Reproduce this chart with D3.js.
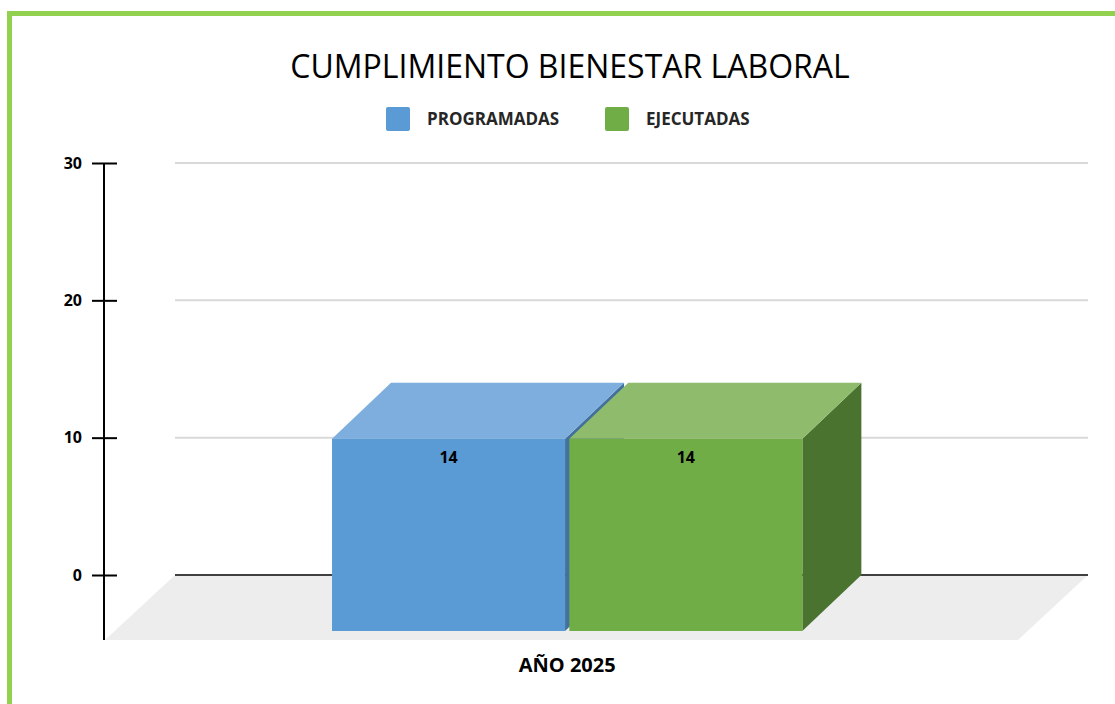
<!DOCTYPE html>
<html>
<head>
<meta charset="utf-8">
<script src="https://cdn.jsdelivr.net/npm/d3@7"></script>
<style>
  body { margin: 0; background: #ffffff; }
  svg { display: block; }
</style>
</head>
<body>
<svg></svg>
<script>
// Chart data
const categories = ["AÑO 2025"];
const seriesNames = ["PROGRAMADAS", "EJECUTADAS"];
const seriesValues = [14, 14];
const yTicks = [0, 10, 20, 30];
const chartTitle = "CUMPLIMIENTO BIENESTAR LABORAL";

// Colours per series: front, top, side
const seriesColors = [
    { front: "#5b9bd5", top: "#7eaedd", side: "#41719c" },
    { front: "#70ad47", top: "#8fbb6c", side: "#4b7330" }
];

const svgWidth = 1115, svgHeight = 704;
const svg = d3.select("svg")
    .attr("width", svgWidth)
    .attr("height", svgHeight);

// Green frame around the chart
svg.append("rect")
    .attr("x", 9.5)
    .attr("y", 13.5)
    .attr("width", svgWidth)
    .attr("height", svgHeight)
    .attr("fill", "#ffffff")
    .attr("stroke", "#92d050")
    .attr("stroke-width", 5);

// Back wall geometry
const wall = { left: 175, right: 1088 };
const yScale = d3.scaleLinear().domain([0, 30]).range([575, 163]);

// Depth offsets (back -> front)
const floorDepth = { dx: -70, dy: 65 };
const barDepth = { dx: -59, dy: 56 };

// Category and series scales (on the back wall plane)
const xCat = d3.scaleBand()
    .domain(categories)
    .range([wall.left, wall.right])
    .paddingInner(0.32)
    .paddingOuter(0.32)
    .align(0.488);

const xSeries = d3.scaleBand()
    .domain(seriesNames)
    .range([0, xCat.bandwidth()])
    .paddingInner(0.018);

// Floor
const y0 = yScale(0);
svg.append("polygon")
    .attr("points", [
        [wall.left, y0],
        [wall.right, y0],
        [wall.right + floorDepth.dx, y0 + floorDepth.dy],
        [wall.left + floorDepth.dx, y0 + floorDepth.dy]
    ].map(p => p.join(",")).join(" "))
    .attr("fill", "#ededed");

// Gridlines on the back wall
svg.append("g")
    .selectAll("line")
    .data(yTicks.filter(d => d !== 0))
    .join("line")
    .attr("x1", wall.left)
    .attr("x2", wall.right)
    .attr("y1", d => yScale(d))
    .attr("y2", d => yScale(d))
    .attr("stroke", "#d9d9d9")
    .attr("stroke-width", 2);

// Zero line
svg.append("line")
    .attr("x1", wall.left)
    .attr("x2", wall.right)
    .attr("y1", y0)
    .attr("y2", y0)
    .attr("stroke", "#404040")
    .attr("stroke-width", 2);

// Bars as boxes
const bars = seriesNames.map((name, i) => {
    const bx0 = xCat(categories[0]) + xSeries(name);
    const bx1 = bx0 + xSeries.bandwidth();
    const by = yScale(seriesValues[i]);
    return { name, value: seriesValues[i], color: seriesColors[i], bx0, bx1, by };
});

const pts = arr => arr.map(p => p.join(",")).join(" ");
const barG = svg.append("g");

bars.forEach(b => {
    const { dx, dy } = barDepth;
    const g = barG.append("g");
    // right side face
    g.append("polygon")
        .attr("points", pts([
            [b.bx1, b.by], [b.bx1, y0],
            [b.bx1 + dx, y0 + dy], [b.bx1 + dx, b.by + dy]
        ]))
        .attr("fill", b.color.side);
    // top face
    g.append("polygon")
        .attr("points", pts([
            [b.bx0, b.by], [b.bx1, b.by],
            [b.bx1 + dx, b.by + dy], [b.bx0 + dx, b.by + dy]
        ]))
        .attr("fill", b.color.top);
    // front face
    g.append("rect")
        .attr("x", b.bx0 + dx)
        .attr("y", b.by + dy)
        .attr("width", b.bx1 - b.bx0)
        .attr("height", y0 - b.by)
        .attr("fill", b.color.front);
    // value label
    g.append("text")
        .attr("x", (b.bx0 + b.bx1) / 2 + dx)
        .attr("y", b.by + dy + 24)
        .attr("text-anchor", "middle")
        .style("font-family", "'Open Sans', sans-serif")
        .style("font-size", "16px")
        .style("font-weight", "700")
        .style("fill", "#000")
        .text(b.value);
});

// Y axis at the front left corner
const axisX = 104;
const yAxis = svg.append("g")
    .attr("transform", `translate(${axisX},0)`)
    .call(d3.axisLeft(yScale).tickValues(yTicks).tickSizeInner(12).tickSizeOuter(0).tickPadding(10));

yAxis.select(".domain").remove();
yAxis.selectAll(".tick line")
    .attr("x1", 13)
    .attr("stroke", "#000")
    .attr("stroke-width", 2);
yAxis.selectAll(".tick text")
    .style("font-family", "'Open Sans', sans-serif")
    .style("font-size", "16px")
    .style("font-weight", "700")
    .style("fill", "#000");

yAxis.append("line")
    .attr("x1", 0)
    .attr("x2", 0)
    .attr("y1", yScale(30))
    .attr("y2", y0 + floorDepth.dy)
    .attr("stroke", "#000")
    .attr("stroke-width", 2);

// Category label
svg.append("text")
    .attr("x", xCat(categories[0]) + xCat.bandwidth() / 2 + barDepth.dx)
    .attr("y", 672)
    .attr("text-anchor", "middle")
    .style("font-family", "'Open Sans', sans-serif")
    .style("font-size", "20px")
    .style("font-weight", "700")
    .style("fill", "#000")
    .text(categories[0]);

// Title
svg.append("text")
    .attr("x", 570)
    .attr("y", 78)
    .attr("text-anchor", "middle")
    .style("font-family", "'Open Sans', sans-serif")
    .style("font-size", "32px")
    .style("fill", "#000")
    .text(chartTitle);

// Legend
const legendX = [386, 605];
const legend = svg.append("g");
seriesNames.forEach((name, i) => {
    const item = legend.append("g")
        .attr("transform", `translate(${legendX[i]},107)`);
    item.append("rect")
        .attr("width", 24)
        .attr("height", 24)
        .attr("rx", 2)
        .attr("fill", seriesColors[i].front);
    item.append("text")
        .attr("x", 41)
        .attr("y", 18)
        .style("font-family", "'Open Sans', sans-serif")
        .style("font-size", "17px")
        .style("font-weight", "700")
        .style("fill", "#262626")
        .text(name);
});
</script>
</body>
</html>
